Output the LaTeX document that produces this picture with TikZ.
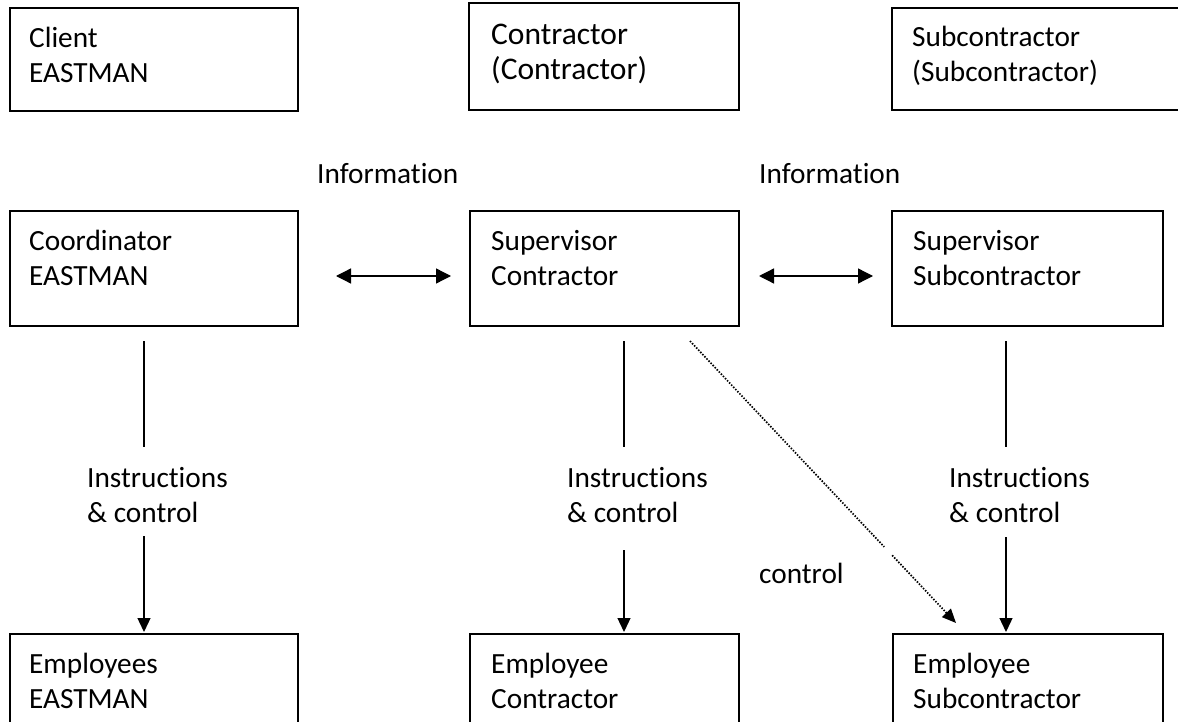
\documentclass[tikz,border=0pt]{standalone}
\usepackage{fontspec}
\setmainfont[Ligatures=NoCommon]{Carlito}
\usetikzlibrary{arrows.meta,calc}
\begin{document}
\begin{tikzpicture}[x=1pt,y=-1pt,
  box/.style={draw, line width=1.4pt, inner sep=0pt, outer sep=0pt, anchor=north west},
  txt/.style={anchor=base west, inner sep=0pt, align=left, font=\fontsize{29.3}{35}\selectfont},
  bigtxt/.style={txt, font=\fontsize{31.5}{35}\selectfont},
  conn/.style={line width=1.3pt},
  arr/.style={conn, -{Triangle[length=14pt,width=13pt]}},
  darr/.style={conn, {Triangle[length=15pt,width=15pt]}-{Triangle[length=15pt,width=15pt]}},
  dotline/.style={line width=1.7pt, dash pattern=on 1.5pt off 1.5pt}
]
\fill[white] (0,0) rectangle (1178,722);
\useasboundingbox (0,0) rectangle (1178,722);

% top row
\node[box, minimum width=288pt, minimum height=103pt] (client) at (10,8) {};
\node[box, minimum width=270pt, minimum height=107pt] (contr) at (469,3) {};
\node[box, minimum width=300pt, minimum height=102pt] (subc) at (892,8) {};
\node[txt] (clientT) at (29,83) {Client\\EASTMAN};
\node[bigtxt] (contrT) at (491,80) {Contractor\\(Contractor)};
\node[txt] (subcT) at (912,82) {Subcontractor\\(Subcontractor)};

% middle row
\node[box, minimum width=288pt, minimum height=115pt] (coord) at (10,211) {};
\node[box, minimum width=269pt, minimum height=115pt] (supC) at (470,211) {};
\node[box, minimum width=271pt, minimum height=115pt] (supS) at (892,211) {};
\node[txt] (coordT) at (29,285) {Coordinator\\EASTMAN};
\node[txt] (supCT) at (491,285) {Supervisor\\Contractor};
\node[txt] (supST) at (913,285) {Supervisor\\Subcontractor};

\node[txt] (info1) at (317,184) {Information};
\node[txt] (info2) at (759,184) {Information};

% bottom row
\node[box, minimum width=288pt, minimum height=100pt] (empL) at (10,634) {};
\node[box, minimum width=269pt, minimum height=100pt] (empC) at (470,634) {};
\node[box, minimum width=270pt, minimum height=100pt] (empS) at (893,634) {};
\node[txt] (empLT) at (29,708) {Employees\\EASTMAN};
\node[txt] (empCT) at (491,708) {Employee\\Contractor};
\node[txt] (empST) at (913,708) {Employee\\Subcontractor};

% labels
\node[txt] (instrL) at (87,522) {Instructions\\\& control};
\node[txt] (instrC) at (567,522) {Instructions\\\& control};
\node[txt] (instrS) at (949,522) {Instructions\\\& control};
\node[txt] (ctrl) at (759,583) {control};

% double arrows
\draw[darr, shorten <=38pt, shorten >=19pt] ([yshift=-7.5pt]coord.east) -- ([yshift=-7.5pt]supC.west);
\draw[darr, shorten <=20pt, shorten >=19pt] ([yshift=-7.5pt]supC.east) -- ([yshift=-7.5pt]supS.west);

% vertical connectors
\coordinate (xL) at ([xshift=-10pt]coord.south);
\coordinate (xC) at ([xshift=19.5pt]supC.south);
\coordinate (xS) at ([xshift=-21.5pt]supS.south);
\draw[conn, shorten <=15pt, shorten >=20pt] (xL) -- (xL |- instrL.north);
\draw[conn, shorten <=15pt, shorten >=20pt] (xC) -- (xC |- instrC.north);
\draw[conn, shorten <=15pt, shorten >=20pt] (xS) -- (xS |- instrS.north);
\draw[arr, shorten <=14pt, shorten >=2pt] (xL |- instrL.south) -- (xL |- empL.north);
\draw[arr, shorten <=28pt, shorten >=2pt] (xC |- instrC.south) -- (xC |- empC.north);
\draw[arr, shorten <=15pt, shorten >=2pt] (xS |- instrS.south) -- (xS |- empS.north);

% dotted control arrow
\coordinate (dS) at ([xshift=85.5pt,yshift=-15pt]supC.south);
\coordinate (dT) at ([xshift=63pt,yshift=11pt]empS.north west);
\draw[dotline] (dS) -- ($(dS)!0.73!(dT)$);
\draw[dotline, -{Triangle[length=14pt,width=12pt]}] ($(dS)!0.76!(dT)$) -- (dT);
\end{tikzpicture}
\end{document}
